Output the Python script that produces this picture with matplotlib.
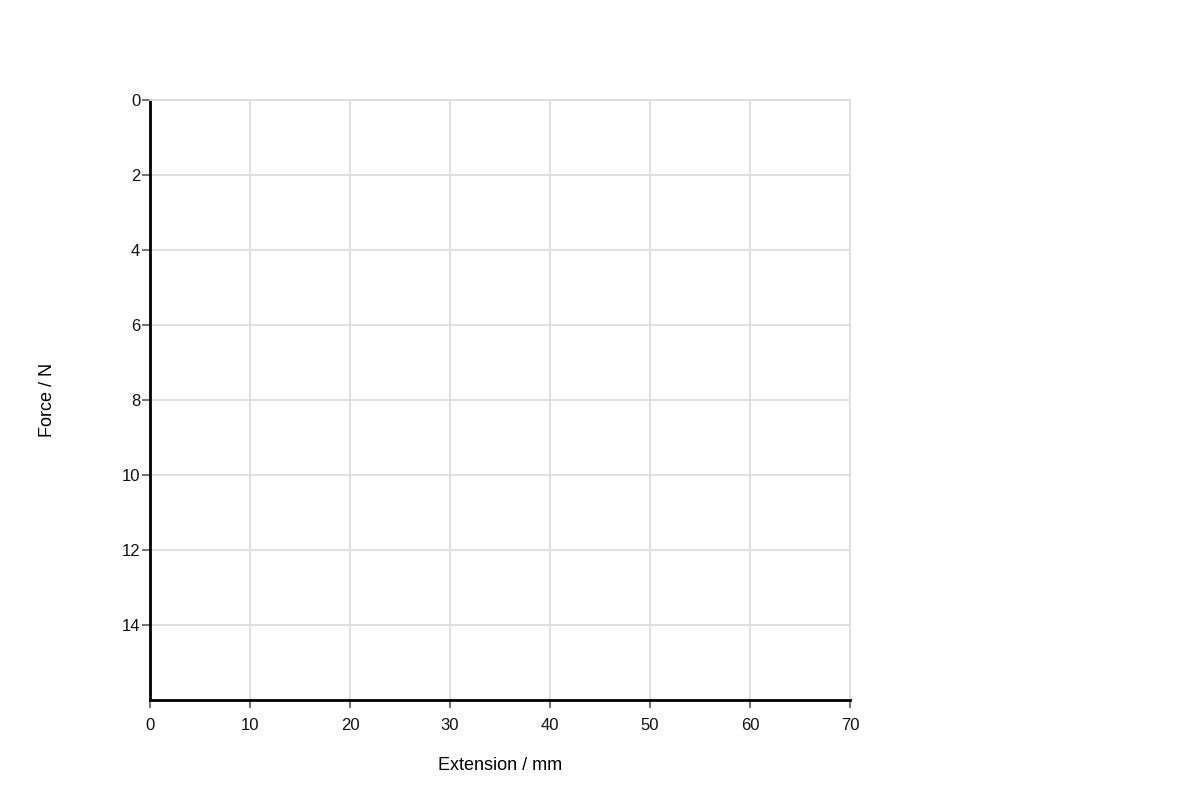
import matplotlib.pyplot as plt

plt.rcParams['font.family'] = ['Liberation Sans', 'DejaVu Sans']

# empty force / extension grid
x_ticks = [0, 10, 20, 30, 40, 50, 60, 70]
y_ticks = [0, 2, 4, 6, 8, 10, 12, 14]
x_max = 70
y_max = 16

fig = plt.figure(figsize=(12, 8), dpi=100)
ax = fig.add_axes([150 / 1200, 100 / 800, 700 / 1200, 600 / 800])

ax.set_xlim(0, x_max)
ax.set_ylim(y_max, 0)
ax.set_xticks(x_ticks)
ax.set_yticks(y_ticks)
ax.grid(True, color='#dddddd', linewidth=1.3)
ax.set_axisbelow(True)

for side in ['top', 'right']:
  ax.spines[side].set_color('#dddddd')
  ax.spines[side].set_linewidth(1.3)
for side in ['left', 'bottom']:
  ax.spines[side].set_color('black')
  ax.spines[side].set_linewidth(2)

ax.tick_params(axis='both', length=6, width=1.5, color='#777777', labelsize=12, labelcolor='#111111')
ax.tick_params(axis='x', pad=7)
ax.tick_params(axis='y', pad=1)

ax.set_xlabel("Extension / mm", fontsize=13, labelpad=17)
ax.set_ylabel("Force / N", fontsize=13, labelpad=47)

fig.savefig("out.png", dpi=100)
